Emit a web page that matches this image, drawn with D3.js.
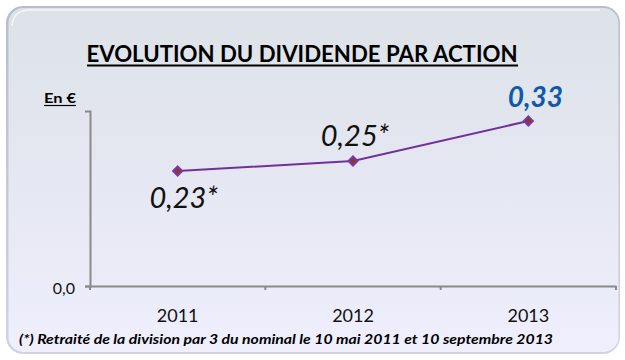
<!DOCTYPE html>
<html>
<head>
<meta charset="utf-8">
<script src="https://cdn.jsdelivr.net/npm/d3@7/dist/d3.min.js"></script>
<style>
  html, body { margin: 0; padding: 0; background: #ffffff; }
  svg { display: block; }
</style>
</head>
<body>
<script>
// Dividend per share, in euros
const years = ["2011", "2012", "2013"];
const dividend = [0.23, 0.25, 0.33];
const valueLabels = ["0,23*", "0,25*", "0,33"];
const yTicks = [0];
const titleText = "EVOLUTION DU DIVIDENDE PAR ACTION";
const unitText = "En €";
const footnoteText = "(*) Retraité de la division par 3 du nominal  le 10 mai 2011 et 10 septembre 2013";

const W = 625, H = 360;
const font = "Lato, 'Open Sans', sans-serif";

const svg = d3.select("body").append("svg")
  .attr("width", W).attr("height", H);

const defs = svg.append("defs");
const bg = defs.append("linearGradient").attr("id", "panelFill")
  .attr("x1", 0).attr("y1", 0).attr("x2", 0).attr("y2", 1);
bg.append("stop").attr("offset", "0%").attr("stop-color", "#dde2e8");
bg.append("stop").attr("offset", "55%").attr("stop-color", "#e6e8f3");
bg.append("stop").attr("offset", "100%").attr("stop-color", "#efeffd");

const edge = defs.append("linearGradient").attr("id", "panelEdge")
  .attr("x1", 0).attr("y1", 0).attr("x2", 0).attr("y2", 1);
edge.append("stop").attr("offset", "0%").attr("stop-color", "#b9bec6");
edge.append("stop").attr("offset", "100%").attr("stop-color", "#d2d2e2");

// Rounded, bevelled background panel
svg.append("rect")
  .attr("x", 6).attr("y", 6).attr("width", 614).attr("height", 348)
  .attr("rx", 17).attr("ry", 17)
  .attr("fill", "url(#panelEdge)");
svg.append("rect")
  .attr("x", 8.5).attr("y", 8).attr("width", 610).attr("height", 344)
  .attr("rx", 15).attr("ry", 15)
  .attr("fill", "url(#panelFill)");
svg.append("path")
  .attr("d", "M12,26 Q13,11 28,10 L600,10")
  .attr("fill", "none").attr("stroke", "#ffffff").attr("stroke-opacity", 0.7)
  .attr("stroke-width", 1.5);

// Scales
const x = d3.scaleBand().domain(years).range([90, 616]);
const y = d3.scaleLinear().domain([0, 0.35]).range([286, 111]);
const loc = d3.formatLocale({ decimal: ",", thousands: " ", grouping: [3], currency: ["", " €"] });
const fmt = loc.format(".1f");

// Y axis
const yAxis = svg.append("g").attr("transform", "translate(90,0)")
  .call(d3.axisLeft(y).tickValues(yTicks).tickFormat(fmt).tickSizeOuter(0).tickSize(5).tickPadding(10));
yAxis.select(".domain").attr("stroke", "#8a8a8a").attr("stroke-width", 2);
yAxis.selectAll(".tick line").attr("stroke", "#8a8a8a").attr("stroke-width", 2);
yAxis.selectAll(".tick text")
  .attr("font-family", font).attr("font-size", 16).attr("fill", "#111").attr("dy", "0.45em");

// X axis with ticks between categories
const xAxis = svg.append("g").attr("transform", `translate(0,${y(0)})`)
  .call(d3.axisBottom(x).tickSize(0).tickPadding(23));
xAxis.select(".domain").attr("stroke", "#8a8a8a").attr("stroke-width", 2);
xAxis.selectAll(".tick text")
  .attr("font-family", font).attr("font-size", 18).attr("fill", "#111");
const bounds = years.map(d => x(d)).concat([x(years[years.length - 1]) + x.bandwidth()]);
xAxis.selectAll("line.sep").data(bounds).join("line").attr("class", "sep")
  .attr("x1", d => d).attr("x2", d => d).attr("y1", 0).attr("y2", 4)
  .attr("stroke", "#8a8a8a").attr("stroke-width", 2);

// Line
const cx = (d, i) => x(years[i]) + x.bandwidth() / 2;
const line = d3.line().x(cx).y(d => y(d));
svg.append("path").datum(dividend)
  .attr("d", line)
  .attr("fill", "none").attr("stroke", "#7030a0").attr("stroke-width", 2);

// Diamond markers
const diamond = d3.symbol().type(d3.symbolDiamond2).size(52);
svg.selectAll("path.marker").data(dividend).join("path").attr("class", "marker")
  .attr("transform", (d, i) => `translate(${cx(d, i)},${y(d)})`)
  .attr("d", diamond)
  .attr("fill", "#8c3b1e").attr("stroke", "#7a35b0").attr("stroke-width", 2);

// Value labels: first one sits below its point, the rest above
const last = dividend.length - 1;
svg.selectAll("text.value").data(dividend).join("text").attr("class", "value")
  .attr("x", (d, i) => cx(d, i) + (i === 0 ? 6 : i === last ? 7 : 2))
  .attr("y", (d, i) => y(d) + (i === 0 ? 37 : i === last ? -14 : -15))
  .attr("text-anchor", "middle")
  .attr("font-family", font)
  .attr("font-style", "italic")
  .attr("font-weight", (d, i) => i === last ? 700 : 400)
  .attr("font-size", (d, i) => i === last ? 28 : 29)
  .attr("fill", (d, i) => i === last ? "#0f5aa8" : "#111111")
  .text((d, i) => valueLabels[i]);

// Title (underlined)
svg.append("text")
  .attr("x", 302).attr("y", 62).attr("text-anchor", "middle")
  .attr("font-family", font).attr("font-weight", 700).attr("font-size", 22)
  .attr("textLength", 431).attr("lengthAdjust", "spacingAndGlyphs")
  .attr("fill", "#000")
  .text(titleText);
svg.append("line").attr("x1", 87).attr("x2", 518).attr("y1", 65.5).attr("y2", 65.5)
  .attr("stroke", "#000").attr("stroke-width", 2);

// Unit label (underlined)
svg.append("text")
  .attr("x", 44).attr("y", 103)
  .attr("font-family", font).attr("font-weight", 700).attr("font-size", 14)
  .attr("textLength", 32).attr("lengthAdjust", "spacingAndGlyphs")
  .attr("fill", "#000").text(unitText);
svg.append("line").attr("x1", 44).attr("x2", 76).attr("y1", 105.5).attr("y2", 105.5)
  .attr("stroke", "#000").attr("stroke-width", 1.2);

// Footnote
svg.append("text")
  .attr("x", 19).attr("y", 344)
  .attr("font-family", font).attr("font-weight", 700).attr("font-style", "italic").attr("font-size", 14)
  .attr("textLength", 534).attr("lengthAdjust", "spacingAndGlyphs")
  .attr("fill", "#000").text(footnoteText);
</script>
</body>
</html>
